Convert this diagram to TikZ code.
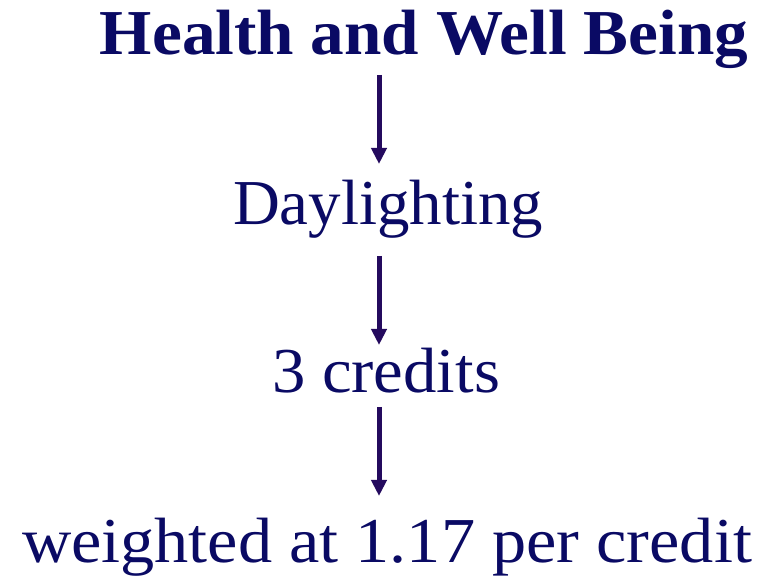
\documentclass[tikz,border=0pt]{standalone}
\usepackage{fontspec}
\setmainfont{Liberation Serif}
\usetikzlibrary{arrows.meta}
\definecolor{navytext}{RGB}{10,10,100}
\definecolor{navyarrow}{RGB}{36,10,94}
\newcommand{\fitw}[2]{\resizebox{#1}{\height}{#2}}
\tikzset{
    label/.style={anchor=base, inner sep=0pt, text=navytext, font=\fontsize{64}{70}\selectfont},
    flow/.style={-{Triangle[width=15pt,length=16pt]}, line width=5pt, draw=navyarrow},
}

\begin{document}
\begin{tikzpicture}[x=1pt,y=1pt]
    \useasboundingbox (0,0) rectangle (764,578);
    \coordinate (axis) at (379,0);
    \node[label, font=\fontsize{64}{70}\selectfont\bfseries] (title) at (424,523) {\fitw{648pt}{Health and Well Being}};
    \node[label] (day) at (388,353) {\fitw{310pt}{Daylighting}};
    \node[label] (cred) at (386,185) {\fitw{228pt}{3 credits}};
    \node[label] (weight) at (387,15) {\fitw{730pt}{weighted at 1.17 per credit}};
    \draw[flow] ([yshift=-20pt]axis |- title.base) -- ([yshift=61pt]axis |- day.base);
    \draw[flow] ([yshift=-31pt]axis |- day.base) -- ([yshift=48pt]axis |- cred.base);
    \draw[flow] ([yshift=-14pt]axis |- cred.base) -- ([yshift=67pt]axis |- weight.base);
\end{tikzpicture}
\end{document}
